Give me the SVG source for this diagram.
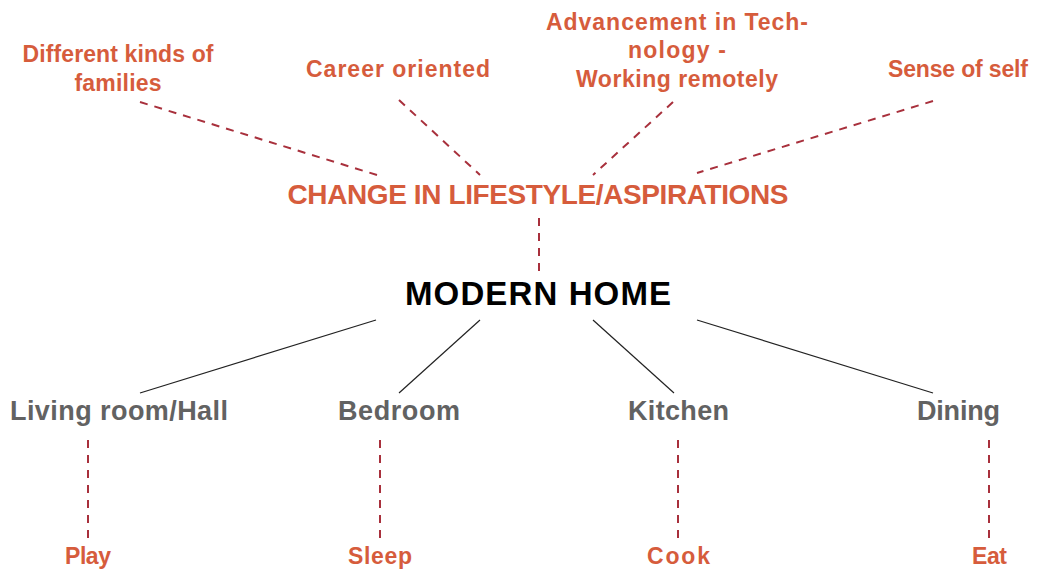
<svg xmlns="http://www.w3.org/2000/svg" width="1037" height="574" viewBox="0 0 1037 574">
<style>
text{font-family:"Liberation Sans","Open Sans",sans-serif;font-weight:bold;text-anchor:middle}
.o{fill:#d65c3c;font-size:23px}
.g{fill:#626262;font-size:27px}
.d{stroke:#a8303c;stroke-width:2;stroke-dasharray:8,7;fill:none}
.s{stroke:#222;stroke-width:1.2;fill:none}
</style>
<rect width="1037" height="574" fill="#fff"/>
<g id="connectors">
<line class="d" x1="140" y1="102" x2="377" y2="175"/>
<line class="d" x1="399" y1="100" x2="480" y2="175"/>
<line class="d" x1="673" y1="102" x2="593" y2="175"/>
<line class="d" x1="933" y1="101" x2="697" y2="173"/>
<line class="d" x1="539" y1="218" x2="539" y2="272"/>
<line class="s" x1="376" y1="320" x2="140" y2="393"/>
<line class="s" x1="480" y1="320" x2="399" y2="393"/>
<line class="s" x1="593" y1="320" x2="674" y2="393"/>
<line class="s" x1="697" y1="320" x2="933" y2="393"/>
<line class="d" x1="88" y1="440" x2="88" y2="540"/>
<line class="d" x1="380" y1="440" x2="380" y2="540"/>
<line class="d" x1="678" y1="440" x2="678" y2="540"/>
<line class="d" x1="989" y1="440" x2="989" y2="540"/>
</g>
<g id="families"><text class="o" x="118" y="62" textLength="191">Different kinds of</text><text class="o" x="118" y="91" textLength="87">families</text></g>
<g id="career"><text class="o" x="398" y="77" textLength="184">Career oriented</text></g>
<g id="tech"><text class="o" x="677" y="30" textLength="262">Advancement in Tech-</text><text class="o" x="677" y="58" textLength="98">nology -</text><text class="o" x="677" y="87" textLength="202">Working remotely</text></g>
<g id="self"><text class="o" x="958" y="77" textLength="140">Sense of self</text></g>
<g id="change"><text x="538" y="204" fill="#d65c3c" font-size="28" textLength="501">CHANGE IN LIFESTYLE/ASPIRATIONS</text></g>
<g id="modern"><text x="538" y="305" fill="#000" font-size="33" textLength="266">MODERN HOME</text></g>
<g id="living"><text class="g" x="119" y="420" textLength="218">Living room/Hall</text></g>
<g id="bedroom"><text class="g" x="399" y="420" textLength="122">Bedroom</text></g>
<g id="kitchen"><text class="g" x="678.5" y="420" textLength="101">Kitchen</text></g>
<g id="dining"><text class="g" x="958.5" y="420" textLength="83">Dining</text></g>
<g id="play"><text class="o" x="88" y="564" textLength="46">Play</text></g>
<g id="sleep"><text class="o" x="380" y="564" textLength="64">Sleep</text></g>
<g id="cook"><text class="o" x="678.5" y="564" textLength="63">Cook</text></g>
<g id="eat"><text class="o" x="989.5" y="564" textLength="35">Eat</text></g>
</svg>
